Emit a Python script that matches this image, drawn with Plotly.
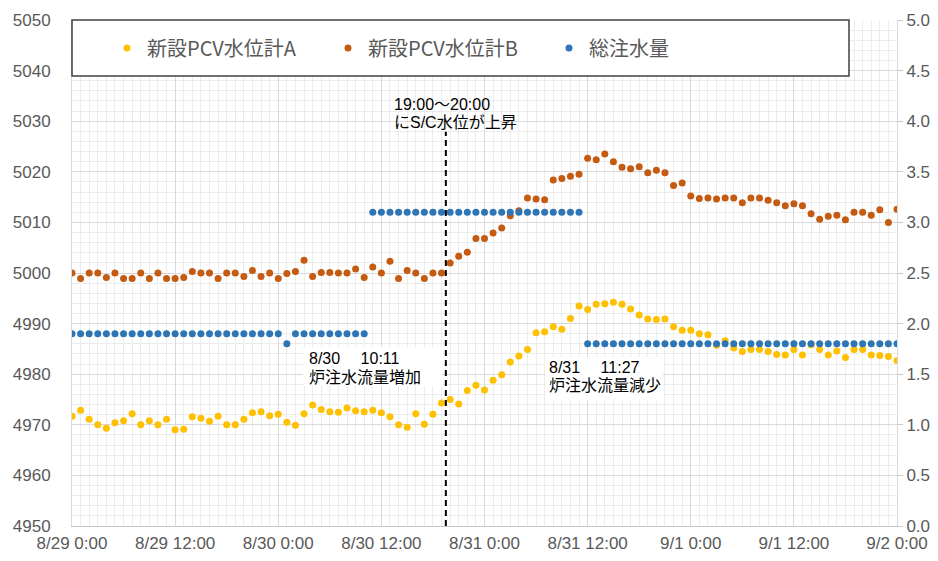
"""
新設PCV水位計A/B と総注水量の推移（8/29〜9/2）。
"""

import pandas as pd
import plotly.graph_objects as go

COLOR_A = "#FFC000"      # 新設PCV水位計A
COLOR_B = "#C55A11"      # 新設PCV水位計B
COLOR_FLOW = "#2E75B6"   # 総注水量
COLOR_TICK = "#595959"
GRID_MAJOR = "#D9D9D9"
GRID_MINOR = "#ECECEC"
FUENTE = "Noto Sans CJK JP, Noto Sans, sans-serif"
FUENTE_NOTA = "Liberation Sans, Noto Sans CJK JP, sans-serif"
FUENTE_EJES = "Liberation Sans, Arial, sans-serif"

# 1時間ごとのデータ（8/29 0:00 〜 9/2 0:00）
tiempos = pd.date_range("2023-08-29 00:00", "2023-09-02 00:00", freq="h")

nivel_a = [
    4971.7, 4972.9, 4971.1, 4970.0, 4969.3, 4970.4, 4970.8, 4972.2, 4970.0, 4970.8,
    4970.0, 4971.1, 4969.0, 4969.1, 4971.6, 4971.3, 4970.7, 4971.7, 4970.0, 4970.0,
    4971.1, 4972.4, 4972.6, 4971.8, 4972.1, 4970.5, 4969.9, 4972.2, 4973.9, 4973.0,
    4972.6, 4972.5, 4973.3, 4972.8, 4972.6, 4972.9, 4972.4, 4971.6, 4970.0, 4969.5,
    4972.2, 4970.1, 4972.1, 4974.3, 4975.0, 4974.1, 4976.8, 4977.8, 4976.9, 4978.8,
    4979.9, 4982.4, 4983.6, 4984.9, 4988.2, 4988.4, 4989.4, 4988.9, 4991.0, 4993.5,
    4992.8, 4993.8, 4993.9, 4994.2, 4993.8, 4992.9, 4991.7, 4990.9, 4990.8, 4990.9,
    4989.4, 4988.7, 4988.7, 4988.0, 4987.8, 4985.7, 4986.6, 4985.2, 4984.5, 4984.9,
    4984.9, 4984.5, 4983.9, 4983.8, 4984.9, 4983.8, 4985.8, 4984.9, 4983.8, 4984.6,
    4983.3, 4984.9, 4984.9, 4983.8, 4983.7, 4983.5, 4982.7,
]

nivel_b = [
    5000.0, 4998.9, 5000.0, 5000.0, 4999.1, 5000.0, 4998.9, 4998.9, 5000.0, 4998.9,
    5000.0, 4998.9, 4998.9, 4999.1, 5000.3, 5000.0, 5000.0, 4998.9, 5000.0, 5000.0,
    4999.3, 5000.5, 4999.3, 5000.0, 4998.9, 4999.9, 5000.3, 5002.5, 4999.3, 5000.1,
    5000.1, 5000.0, 5000.0, 5000.8, 4999.1, 5001.2, 5000.0, 5002.3, 4998.9, 5000.5,
    5000.0, 4998.9, 5000.0, 5000.0, 5002.0, 5003.3, 5004.1, 5006.8, 5006.8, 5007.9,
    5008.9, 5011.3, 5012.3, 5014.8, 5014.6, 5014.5, 5018.4, 5018.7, 5019.1, 5019.5,
    5022.7, 5022.4, 5023.5, 5022.0, 5020.9, 5020.6, 5021.0, 5019.8, 5020.3, 5019.8,
    5017.3, 5017.8, 5015.2, 5014.7, 5014.8, 5014.6, 5014.8, 5014.8, 5013.9, 5014.8,
    5014.8, 5014.4, 5013.9, 5013.3, 5013.7, 5013.3, 5011.7, 5010.6, 5011.2, 5011.4,
    5010.5, 5012.0, 5012.0, 5011.4, 5012.5, 5010.0, 5012.6,
]

caudal_total = [
    1.9, 1.9, 1.9, 1.9, 1.9, 1.9, 1.9, 1.9, 1.9, 1.9,
    1.9, 1.9, 1.9, 1.9, 1.9, 1.9, 1.9, 1.9, 1.9, 1.9,
    1.9, 1.9, 1.9, 1.9, 1.9, 1.8, 1.9, 1.9, 1.9, 1.9,
    1.9, 1.9, 1.9, 1.9, 1.9, 3.1, 3.1, 3.1, 3.1, 3.1,
    3.1, 3.1, 3.1, 3.1, 3.1, 3.1, 3.1, 3.1, 3.1, 3.1,
    3.1, 3.1, 3.1, 3.1, 3.1, 3.1, 3.1, 3.1, 3.1, 3.1,
    1.8, 1.8, 1.8, 1.8, 1.8, 1.8, 1.8, 1.8, 1.8, 1.8,
    1.8, 1.8, 1.8, 1.8, 1.8, 1.8, 1.8, 1.8, 1.8, 1.8,
    1.8, 1.8, 1.8, 1.8, 1.8, 1.8, 1.8, 1.8, 1.8, 1.8,
    1.8, 1.8, 1.8, 1.8, 1.8, 1.8, 1.8,
]

etiquetas_x = ["8/29 0:00", "8/29 12:00", "8/30 0:00", "8/30 12:00", "8/31 0:00",
               "8/31 12:00", "9/1 0:00", "9/1 12:00", "9/2 0:00"]
valores_x = pd.date_range("2023-08-29 00:00", periods=len(etiquetas_x), freq="12h")

hora_subida = "2023-08-30 19:30"   # 19:00〜20:00 S/C水位上昇

fig = go.Figure()

fig.add_trace(go.Scatter(
    x=tiempos, y=nivel_a, mode="markers", name="新設PCV水位計A",
    marker=dict(color=COLOR_A, size=7),
))
fig.add_trace(go.Scatter(
    x=tiempos, y=nivel_b, mode="markers", name="新設PCV水位計B",
    marker=dict(color=COLOR_B, size=7),
))
fig.add_trace(go.Scatter(
    x=tiempos, y=caudal_total, mode="markers", name="総注水量", yaxis="y2",
    marker=dict(color=COLOR_FLOW, size=7),
))

# 凡例の枠
fig.add_shape(
    type="rect", xref="paper", yref="paper",
    x0=0, x1=0.9418, y0=0.8893, y1=1.0,
    fillcolor="white", line=dict(color="#404040", width=1.5), layer="above",
)

# テキストボックスの白背景
fig.add_shape(
    type="rect", xref="paper", yref="paper",
    x0=0.28, x1=0.4485, y0=0.2768, y1=0.354,
    fillcolor="white", line=dict(width=0), layer="above",
)
fig.add_shape(
    type="rect", xref="paper", yref="paper",
    x0=0.5733, x1=0.7164, y0=0.2486, y1=0.3336,
    fillcolor="white", line=dict(width=0), layer="above",
)

# 19:00〜20:00 の破線
fig.add_shape(
    type="line", xref="x", yref="y",
    x0=hora_subida, x1=hora_subida, y0=4950, y1=5027.9,
    line=dict(color="black", width=2, dash="6px,4px"),
)

# 注記（1行ずつ）
nota = dict(xref="paper", yref="paper", xanchor="left", yanchor="middle",
            showarrow=False, align="left", borderpad=0,
            font=dict(family=FUENTE_NOTA, size=16, color="black"))
fig.add_annotation(x=0.389, y=0.8337, text="19:00～20:00", **nota)
fig.add_annotation(x=0.389, y=0.7973, text="にS/C水位が上昇", **nota)
fig.add_annotation(x=0.286, y=0.3310, text="8/30　 10:11", **nota)
fig.add_annotation(x=0.286, y=0.2940, text="炉注水流量増加", **nota)
fig.add_annotation(x=0.577, y=0.3128, text="8/31　 11:27", **nota)
fig.add_annotation(x=0.577, y=0.2772, text="炉注水流量減少", **nota)

# ページ本体の余白 8px を見込み、ページがはみ出さないサイズにする
fig.update_layout(
    width=922, height=545,
    margin=dict(l=64, r=33, t=12, b=27),
    paper_bgcolor="white", plot_bgcolor="white",
    font=dict(family=FUENTE, color=COLOR_TICK, size=17),
    showlegend=True,
    legend=dict(
        orientation="h", x=0.0424, y=0.9446, xanchor="left", yanchor="middle",
        bgcolor="rgba(0,0,0,0)", borderwidth=0,
        font=dict(family=FUENTE, size=20, color=COLOR_TICK),
        entrywidth=176,
    ),
    xaxis=dict(
        range=[tiempos[0], tiempos[-1]], automargin=False,
        tickmode="array", tickvals=valores_x, ticktext=etiquetas_x,
        showgrid=True, gridcolor=GRID_MAJOR, gridwidth=1,
        minor=dict(dtick=3600000, tick0="2023-08-29", showgrid=True,
                   gridcolor=GRID_MINOR, gridwidth=1),
        showline=True, linecolor="#C8C8C8", linewidth=1,
        ticks="", ticklabelstandoff=2, ticklabeloverflow="allow",
        tickfont=dict(family=FUENTE_EJES, size=17, color=COLOR_TICK),
        zeroline=False,
    ),
    yaxis=dict(
        range=[4950, 5050], dtick=10, tick0=4950, automargin=False,
        showgrid=True, gridcolor=GRID_MAJOR, gridwidth=1,
        minor=dict(dtick=2, showgrid=True, gridcolor=GRID_MINOR, gridwidth=1),
        showline=True, linecolor=GRID_MAJOR,
        ticks="", ticklabelstandoff=17, ticklabeloverflow="allow",
        tickfont=dict(family=FUENTE_EJES, size=17, color=COLOR_TICK),
        zeroline=False,
    ),
    yaxis2=dict(
        range=[0, 5], dtick=0.5, tick0=0, tickformat=".1f", automargin=False,
        overlaying="y", side="right",
        showgrid=False, showline=True, linecolor=GRID_MAJOR,
        ticks="outside", ticklen=5, tickcolor="#C8C8C8",
        ticklabelstandoff=0, ticklabeloverflow="allow",
        tickfont=dict(family=FUENTE_EJES, size=17, color=COLOR_TICK),
        zeroline=False,
    ),
)

fig.write_html("out.html")
